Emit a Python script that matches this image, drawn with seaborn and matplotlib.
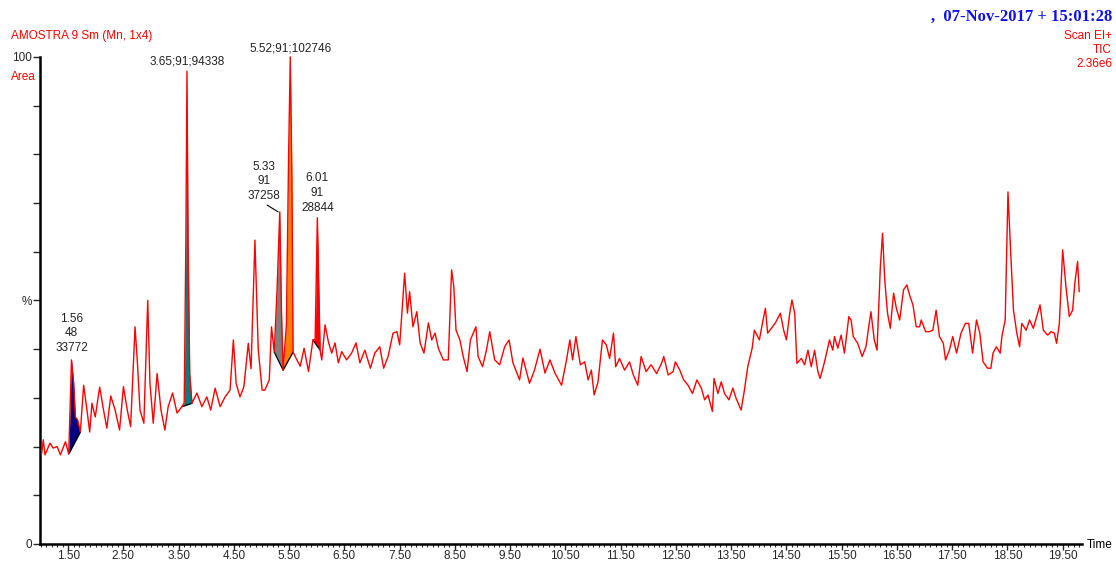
import numpy as np
import matplotlib
matplotlib.use("Agg")
import matplotlib.pyplot as plt
from matplotlib.ticker import MultipleLocator, FixedLocator
import seaborn as sns

# ---------------- data ----------------
times = [1.02, 1.05, 1.08, 1.17, 1.23, 1.30, 1.36, 1.45, 1.51, 1.56, 1.60, 1.63, 1.67, 1.72,
         1.78, 1.84, 1.89, 1.93, 1.99, 2.07, 2.14, 2.20, 2.27, 2.35, 2.43, 2.50, 2.57, 2.63,
         2.71, 2.75, 2.80, 2.87, 2.94, 2.98, 3.04, 3.11, 3.18, 3.25, 3.31, 3.39, 3.47, 3.56,
         3.60, 3.63, 3.65, 3.67, 3.70, 3.74, 3.83, 3.92, 4.01, 4.08, 4.16, 4.25, 4.34, 4.43,
         4.49, 4.54, 4.61, 4.68, 4.76, 4.81, 4.88, 4.94, 5.01, 5.06, 5.14, 5.18, 5.23, 5.28,
         5.33, 5.36, 5.39, 5.45, 5.49, 5.52, 5.55, 5.57, 5.64, 5.70, 5.77, 5.85, 5.93, 5.97,
         6.01, 6.04, 6.06, 6.09, 6.15, 6.21, 6.27, 6.33, 6.39, 6.45, 6.54, 6.63, 6.71, 6.78,
         6.87, 6.97, 7.05, 7.14, 7.21, 7.29, 7.38, 7.45, 7.50, 7.59, 7.64, 7.68, 7.74, 7.81,
         7.87, 7.94, 8.02, 8.08, 8.14, 8.20, 8.29, 8.38, 8.44, 8.48, 8.52, 8.59, 8.65, 8.72,
         8.78, 8.88, 8.92, 9.00, 9.07, 9.13, 9.22, 9.31, 9.40, 9.48, 9.55, 9.67, 9.73, 9.85,
         9.94, 10.04, 10.13, 10.22, 10.31, 10.43, 10.52, 10.58, 10.63, 10.69, 10.77, 10.85,
         10.91, 10.97, 11.02, 11.09, 11.17, 11.24, 11.30, 11.37, 11.41, 11.48, 11.57, 11.66,
         11.73, 11.81, 11.87, 11.96, 12.05, 12.15, 12.24, 12.28, 12.36, 12.45, 12.49, 12.57,
         12.64, 12.72, 12.80, 12.88, 12.96, 13.02, 13.08, 13.16, 13.19, 13.26, 13.32, 13.38,
         13.46, 13.53, 13.59, 13.68, 13.74, 13.80, 13.88, 13.92, 13.98, 14.01, 14.07, 14.12,
         14.16, 14.25, 14.31, 14.39, 14.45, 14.50, 14.56, 14.60, 14.65, 14.69, 14.77, 14.83,
         14.89, 14.95, 15.01, 15.07, 15.11, 15.19, 15.28, 15.34, 15.37, 15.43, 15.49, 15.55,
         15.63, 15.67, 15.71, 15.79, 15.87, 15.94, 15.99, 16.03, 16.09, 16.14, 16.20, 16.24,
         16.28, 16.33, 16.38, 16.44, 16.49, 16.55, 16.62, 16.68, 16.73, 16.79, 16.85, 16.91,
         16.94, 17.02, 17.09, 17.15, 17.21, 17.27, 17.34, 17.38, 17.45, 17.51, 17.58, 17.66,
         17.74, 17.80, 17.87, 17.94, 18.00, 18.06, 18.14, 18.20, 18.24, 18.30, 18.37, 18.40,
         18.46, 18.51, 18.56, 18.61, 18.67, 18.72, 18.76, 18.84, 18.90, 18.97, 19.03, 19.09,
         19.15, 19.23, 19.29, 19.35, 19.39, 19.44, 19.50, 19.56, 19.62, 19.68, 19.72, 19.77,
         19.80]
pct = [18.6, 21.4, 18.3, 20.7, 19.7, 20.0, 18.3, 21.0, 18.5, 37.8, 33.0, 26.1, 25.5, 23.0,
       32.6, 27.5, 23.0, 28.9, 26.1, 32.2, 27.5, 23.8, 30.4, 27.5, 23.4, 32.3, 27.5, 24.1,
       44.6, 37.8, 27.5, 24.8, 50.0, 33.0, 24.8, 35.0, 27.5, 23.4, 28.2, 31.0, 26.9, 28.2,
       29.0, 62.0, 97.1, 62.0, 35.0, 28.9, 31.0, 28.2, 30.2, 27.5, 32.0, 28.2, 30.2, 31.6,
       41.9, 33.0, 30.2, 32.3, 41.2, 36.0, 62.4, 40.0, 31.6, 31.6, 33.7, 44.6, 39.4, 52.0,
       68.2, 48.0, 35.7, 45.0, 80.0, 100.0, 75.0, 39.4, 37.8, 36.5, 40.2, 35.4, 41.9, 42.0,
       67.0, 50.0, 39.8, 37.8, 45.0, 41.5, 39.2, 41.3, 37.2, 39.5, 37.8, 39.2, 41.3, 37.2,
       39.8, 36.1, 39.2, 40.5, 36.1, 38.5, 43.3, 43.6, 40.9, 55.6, 47.4, 51.8, 44.6, 47.7,
       41.3, 39.2, 45.4, 41.9, 43.3, 40.2, 37.8, 37.8, 56.3, 52.8, 43.9, 41.9, 38.5, 35.4,
       41.9, 44.6, 38.5, 36.4, 39.8, 43.6, 37.8, 36.8, 40.5, 41.9, 37.2, 33.7, 38.2, 33.0,
       35.7, 40.0, 35.1, 37.8, 35.1, 32.6, 37.8, 41.9, 37.8, 42.6, 36.8, 37.4,
       33.7, 35.7, 30.6, 33.3, 41.9, 40.9, 38.1, 43.3, 36.4, 38.1, 35.7, 37.4,
       34.7, 32.6, 38.5, 35.4, 36.8, 35.0, 37.1, 38.5, 34.7, 35.4, 37.4, 35.7,
       33.7, 32.6, 30.9, 33.7, 32.0, 29.6, 30.6, 27.2, 34.0, 30.9, 33.3, 30.9,
       29.6, 32.0, 29.9, 27.5, 31.6, 36.4, 40.2, 43.9, 42.6, 41.9, 45.6, 48.4,
       43.3, 44.6, 45.6, 47.4, 43.9, 41.9, 47.4, 50.1, 47.4, 37.1, 38.1, 36.8,
       39.8, 36.4, 39.8, 35.4, 34.0, 37.4, 41.9, 39.8, 42.6, 40.2, 42.9, 39.2,
       46.7, 46.0, 42.6, 41.2, 38.5, 40.5, 44.6, 47.7, 41.9, 39.8, 56.9, 63.8,
       54.2, 47.4, 44.3, 51.5, 48.4, 46.0, 52.2, 53.2, 51.1, 49.1, 44.6, 44.6,
       46.0, 43.6, 43.6, 43.9, 48.0, 42.6, 41.2, 37.8, 39.8, 42.6, 39.2, 43.3,
       45.3, 45.3, 39.2, 46.0, 43.3, 37.4, 36.1, 36.1, 39.2, 40.5, 39.2, 42.6,
       46.0, 72.3, 59.7, 48.0, 43.3, 40.5, 45.3, 43.9, 46.0, 44.3, 46.7, 49.1,
       43.9, 42.9, 43.6, 43.3, 41.2, 45.3, 60.4, 52.8, 46.7, 48.0, 53.5, 58.0,
       51.8]

# integrated peaks: start, end, fill colour
peak_starts = [1.51, 3.56, 5.23, 5.39, 5.93]
peak_ends = [1.72, 3.74, 5.39, 5.57, 6.06]
peak_colors = ["#000080", "#008080", "#808080", "#FF8000", "#FF0000"]

# ---------------- plot ----------------
sns.set_style("white")
plt.rcParams["font.family"] = ["Liberation Sans", "DejaVu Sans"]

fig = plt.figure(figsize=(11.16, 5.64), dpi=100)
ax = fig.add_axes([40 / 1116, 20 / 564, 1042 / 1116, 487 / 564])

t = np.array(times)
y = np.array(pct)

for t0, t1, col in zip(peak_starts, peak_ends, peak_colors):
    m = (t >= t0) & (t <= t1)
    xs = t[m]
    y0, y1 = np.interp([t0, t1], t, y)
    base = y0 + (xs - t0) * (y1 - y0) / (t1 - t0)
    ax.fill_between(xs, base, y[m], color=col, lw=0, zorder=2)
    ax.plot([t0, t1], [y0, y1], color="black", lw=0.9, zorder=3)

sns.lineplot(x=t, y=y, ax=ax, color="#FF0000", lw=1.0, estimator=None,
             zorder=4, clip_on=False)

# peak labels
lab = dict(fontsize=8.5, color="#222222", ha="center", va="bottom", linespacing=1.3)
ax.text(1.56, 39.0, "1.56\n48\n33772", **lab)
ax.text(3.65, 97.8, "3.65;91;94338", **lab)
ax.text(5.52, 100.6, "5.52;91;102746", **lab, clip_on=False)
ax.text(5.04, 70.2, "5.33\n91\n37258", **lab)
ax.text(6.01, 67.8, "6.01\n91\n28844", **lab)
ax.plot([5.10, 5.30], [69.6, 68.2], color="black", lw=0.8)

ax.set_xlim(0.99, 19.85)
ax.set_ylim(0, 100)
ax.xaxis.set_major_locator(FixedLocator(np.arange(1.5, 19.6, 1.0)))
ax.xaxis.set_major_formatter(plt.FuncFormatter(lambda v, p: f"{v:.2f}"))
ax.xaxis.set_minor_locator(MultipleLocator(0.1))
ax.set_yticks(np.arange(0, 101, 10))
ax.set_yticklabels(["0", "", "", "", "", "%", "", "", "", "", "100"])
ax.tick_params(axis="x", which="major", length=4, width=1, direction="out",
               labelsize=8.5, pad=0.5, bottom=True)
ax.tick_params(axis="x", which="minor", length=2.5, width=0.8, direction="out", bottom=True)
ax.tick_params(axis="y", length=5, width=1, direction="out", labelsize=8.5, pad=1, left=True)
for s in ["top", "right"]:
    ax.spines[s].set_visible(False)
for s in ["left", "bottom"]:
    ax.spines[s].set_linewidth(1.8)
    ax.spines[s].set_color("black")
ax.set_xlabel("")
ax.set_ylabel("")

# header / annotations
red = "#FF0000"
fig.text(11 / 1116, 1 - 36 / 564, "AMOSTRA 9 Sm (Mn, 1x4)", color=red, fontsize=8.5, va="center")
fig.text(11 / 1116, 1 - 77 / 564, "Area", color=red, fontsize=8.5, va="center")
fig.text(1112 / 1116, 1 - 17 / 564, ",  07-Nov-2017 + 15:01:28", color="#1010EE",
         fontsize=12, fontweight="bold", family="Liberation Serif", ha="right", va="center")
fig.text(1112 / 1116, 1 - 36 / 564, "Scan EI+", color=red, fontsize=8.5, ha="right", va="center")
fig.text(1112 / 1116, 1 - 50 / 564, "TIC", color=red, fontsize=8.5, ha="right", va="center")
fig.text(1112 / 1116, 1 - 64 / 564, "2.36e6", color=red, fontsize=8.5, ha="right", va="center")
fig.text(1087 / 1116, 1 - 545 / 564, "Time", color="black", fontsize=8.5, va="center")

fig.savefig("out.png", dpi=100)
